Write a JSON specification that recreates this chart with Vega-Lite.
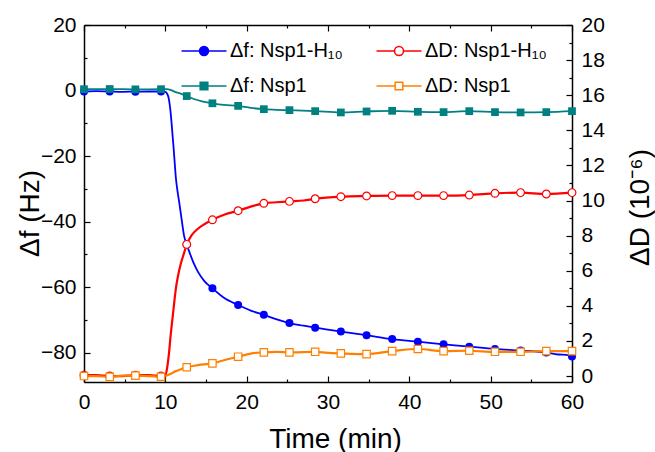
{
  "$schema": "https://vega.github.io/schema/vega-lite/v6.json",
  "width": 488,
  "height": 357,
  "autosize": "none",
  "padding": {"left": 84, "top": 25, "right": 83, "bottom": 70},
  "background": "white",
  "config": {
    "view": {"stroke": null},
    "axis": {
      "labelFont": "Liberation Sans", "titleFont": "Liberation Sans",
      "labelFontSize": 21, "titleFontSize": 28, "titleFontWeight": "normal",
      "labelColor": "black", "titleColor": "black",
      "domainColor": "black", "tickColor": "black",
      "domainWidth": 1.5, "tickWidth": 1.2, "grid": false,
      "labelFlush": false, "labelOverlap": false, "labelBound": false
    }
  },
  "datasets": {
    "d": [
      {"s":"fH","t":0,"v":-0.3,"m":1},{"s":"fH","t":3.16,"v":-0.3,"m":1},{"s":"fH","t":6.32,"v":-0.35,"m":1},{"s":"fH","t":9.47,"v":-0.3,"m":1},
      {"s":"fH","t":12.63,"v":-47.0,"m":1},{"s":"fH","t":15.79,"v":-60.4,"m":1},{"s":"fH","t":18.95,"v":-65.5,"m":1},{"s":"fH","t":22.11,"v":-68.5,"m":1},
      {"s":"fH","t":25.26,"v":-71.0,"m":1},{"s":"fH","t":28.42,"v":-72.4,"m":1},{"s":"fH","t":31.58,"v":-73.6,"m":1},{"s":"fH","t":34.74,"v":-74.7,"m":1},
      {"s":"fH","t":37.89,"v":-75.9,"m":1},{"s":"fH","t":41.05,"v":-76.7,"m":1},{"s":"fH","t":44.21,"v":-77.5,"m":1},{"s":"fH","t":47.37,"v":-78.2,"m":1},
      {"s":"fH","t":50.53,"v":-78.9,"m":1},{"s":"fH","t":53.68,"v":-79.4,"m":1},{"s":"fH","t":56.84,"v":-80.0,"m":1},{"s":"fH","t":60,"v":-81.2,"m":1},
      {"s":"fH","t":1.5,"v":-0.2,"m":0},{"s":"fH","t":4.7,"v":-0.4,"m":0},{"s":"fH","t":8,"v":-0.3,"m":0},{"s":"fH","t":10,"v":-0.4,"m":0},
      {"s":"fH","t":10.2,"v":-0.9,"m":0},{"s":"fH","t":10.4,"v":-2.2,"m":0},{"s":"fH","t":10.55,"v":-4.5,"m":0},{"s":"fH","t":10.7,"v":-8,"m":0},
      {"s":"fH","t":10.85,"v":-12.5,"m":0},{"s":"fH","t":11,"v":-17,"m":0},{"s":"fH","t":11.15,"v":-22,"m":0},{"s":"fH","t":11.3,"v":-26.8,"m":0},
      {"s":"fH","t":11.5,"v":-30.8,"m":0},{"s":"fH","t":11.7,"v":-34,"m":0},{"s":"fH","t":12,"v":-39.3,"m":0},{"s":"fH","t":12.3,"v":-44.3,"m":0},
      {"s":"fH","t":13,"v":-49.6,"m":0},{"s":"fH","t":13.5,"v":-52.8,"m":0},{"s":"fH","t":14,"v":-55.3,"m":0},{"s":"fH","t":14.8,"v":-58.2,"m":0},
      {"s":"fH","t":17.2,"v":-63.3,"m":0},{"s":"fH","t":20.5,"v":-67.2,"m":0},{"s":"fH","t":23.7,"v":-69.9,"m":0},{"s":"fH","t":27,"v":-71.8,"m":0},
      {"s":"fH","t":58.3,"v":-80.6,"m":0},{"s":"fH","t":59.3,"v":-80.7,"m":0},

      {"s":"fN","t":0,"v":0.4,"m":1},{"s":"fN","t":3.16,"v":0.45,"m":1},{"s":"fN","t":6.32,"v":0.35,"m":1},{"s":"fN","t":9.47,"v":0.4,"m":1},
      {"s":"fN","t":12.63,"v":-1.7,"m":1},{"s":"fN","t":15.79,"v":-3.9,"m":1},{"s":"fN","t":18.95,"v":-4.7,"m":1},{"s":"fN","t":22.11,"v":-5.7,"m":1},
      {"s":"fN","t":25.26,"v":-6.0,"m":1},{"s":"fN","t":28.42,"v":-6.3,"m":1},{"s":"fN","t":31.58,"v":-6.7,"m":1},{"s":"fN","t":34.74,"v":-6.4,"m":1},
      {"s":"fN","t":37.89,"v":-6.2,"m":1},{"s":"fN","t":41.05,"v":-6.5,"m":1},{"s":"fN","t":44.21,"v":-6.6,"m":1},{"s":"fN","t":47.37,"v":-6.3,"m":1},
      {"s":"fN","t":50.53,"v":-6.6,"m":1},{"s":"fN","t":53.68,"v":-6.7,"m":1},{"s":"fN","t":56.84,"v":-6.6,"m":1},{"s":"fN","t":60,"v":-6.3,"m":1},
      {"s":"fN","t":10.2,"v":0.4,"m":0},{"s":"fN","t":10.7,"v":0.1,"m":0},{"s":"fN","t":11.2,"v":-0.4,"m":0},{"s":"fN","t":11.8,"v":-0.9,"m":0},
      {"s":"fN","t":13.5,"v":-2.6,"m":0},{"s":"fN","t":14.5,"v":-3.3,"m":0},{"s":"fN","t":17.2,"v":-4.4,"m":0},{"s":"fN","t":20.5,"v":-5.3,"m":0},
      {"s":"fN","t":23.7,"v":-5.9,"m":0},

      {"s":"DH","t":0,"v":0.05,"m":1},{"s":"DH","t":3.16,"v":0.0,"m":1},{"s":"DH","t":6.32,"v":0.05,"m":1},{"s":"DH","t":9.47,"v":0.0,"m":1},
      {"s":"DH","t":12.63,"v":7.5,"m":1},{"s":"DH","t":15.79,"v":8.9,"m":1},{"s":"DH","t":18.95,"v":9.42,"m":1},{"s":"DH","t":22.11,"v":9.84,"m":1},
      {"s":"DH","t":25.26,"v":9.95,"m":1},{"s":"DH","t":28.42,"v":10.1,"m":1},{"s":"DH","t":31.58,"v":10.22,"m":1},{"s":"DH","t":34.74,"v":10.26,"m":1},
      {"s":"DH","t":37.89,"v":10.28,"m":1},{"s":"DH","t":41.05,"v":10.28,"m":1},{"s":"DH","t":44.21,"v":10.28,"m":1},{"s":"DH","t":47.37,"v":10.31,"m":1},
      {"s":"DH","t":50.53,"v":10.41,"m":1},{"s":"DH","t":53.68,"v":10.45,"m":1},{"s":"DH","t":56.84,"v":10.37,"m":1},{"s":"DH","t":60,"v":10.45,"m":1},
      {"s":"DH","t":1.5,"v":0.05,"m":0},{"s":"DH","t":4.7,"v":0.0,"m":0},{"s":"DH","t":8,"v":0.05,"m":0},{"s":"DH","t":10,"v":0.05,"m":0},
      {"s":"DH","t":10.2,"v":0.4,"m":0},{"s":"DH","t":10.45,"v":1.3,"m":0},{"s":"DH","t":10.65,"v":2.3,"m":0},{"s":"DH","t":10.86,"v":3.2,"m":0},
      {"s":"DH","t":11.05,"v":4.0,"m":0},{"s":"DH","t":11.27,"v":4.9,"m":0},{"s":"DH","t":11.6,"v":5.8,"m":0},{"s":"DH","t":11.9,"v":6.4,"m":0},
      {"s":"DH","t":12.3,"v":7.0,"m":0},{"s":"DH","t":13.2,"v":8.0,"m":0},{"s":"DH","t":13.9,"v":8.35,"m":0},{"s":"DH","t":14.8,"v":8.65,"m":0},
      {"s":"DH","t":17.3,"v":9.2,"m":0},{"s":"DH","t":20.5,"v":9.65,"m":0},{"s":"DH","t":23.7,"v":9.9,"m":0},{"s":"DH","t":27,"v":10.0,"m":0},

      {"s":"DN","t":0,"v":0.0,"m":1},{"s":"DN","t":3.16,"v":-0.05,"m":1},{"s":"DN","t":6.32,"v":0.02,"m":1},{"s":"DN","t":9.47,"v":-0.04,"m":1},
      {"s":"DN","t":12.63,"v":0.5,"m":1},{"s":"DN","t":15.79,"v":0.72,"m":1},{"s":"DN","t":18.95,"v":1.1,"m":1},{"s":"DN","t":22.11,"v":1.35,"m":1},
      {"s":"DN","t":25.26,"v":1.35,"m":1},{"s":"DN","t":28.42,"v":1.38,"m":1},{"s":"DN","t":31.58,"v":1.29,"m":1},{"s":"DN","t":34.74,"v":1.25,"m":1},
      {"s":"DN","t":37.89,"v":1.42,"m":1},{"s":"DN","t":41.05,"v":1.54,"m":1},{"s":"DN","t":44.21,"v":1.42,"m":1},{"s":"DN","t":47.37,"v":1.44,"m":1},
      {"s":"DN","t":50.53,"v":1.38,"m":1},{"s":"DN","t":53.68,"v":1.38,"m":1},{"s":"DN","t":56.84,"v":1.42,"m":1},{"s":"DN","t":60,"v":1.42,"m":1},
      {"s":"DN","t":1.5,"v":0.0,"m":0},{"s":"DN","t":4.7,"v":0.02,"m":0},{"s":"DN","t":8,"v":0.0,"m":0},{"s":"DN","t":10,"v":0.0,"m":0},
      {"s":"DN","t":10.6,"v":0.12,"m":0},{"s":"DN","t":11.3,"v":0.28,"m":0},{"s":"DN","t":12,"v":0.4,"m":0},{"s":"DN","t":14,"v":0.62,"m":0},
      {"s":"DN","t":17.2,"v":0.9,"m":0},{"s":"DN","t":20.5,"v":1.28,"m":0},{"s":"DN","t":23.7,"v":1.38,"m":0},{"s":"DN","t":27,"v":1.36,"m":0},
      {"s":"DN","t":30,"v":1.32,"m":0}
    ]
  },
  "data": {"name": "d"},
  "layer": [
    {
      "transform": [{"filter": {"field": "s", "oneOf": ["fH", "fN"]}}],
      "encoding": {
        "x": {"field": "t", "type": "quantitative", "scale": {"domain": [0, 60], "nice": false},
          "axis": {"orient": "bottom", "values": [0,5,10,15,20,25,30,35,40,45,50,55,60],
            "labelExpr": "datum.value % 10 === 0 ? datum.label : ''",
            "tickSize": {"condition": {"test": "datum.value % 10 === 0", "value": -6}, "value": -3},
            "labelPadding": 15, "title": "Time (min)", "titleX": 251, "titleY": 65, "titleBaseline": "alphabetic"}},
        "y": {"field": "v", "type": "quantitative", "scale": {"domain": [-89, 20], "nice": false, "zero": false},
          "axis": {"orient": "left", "values": [-80,-70,-60,-50,-40,-30,-20,-10,0,10,20],
            "labelExpr": "datum.value % 20 === 0 ? datum.label : ''",
            "tickSize": {"condition": {"test": "datum.value % 20 === 0", "value": -6}, "value": -3},
            "labelPadding": 14, "title": "Δf (Hz)", "titleAngle": -90, "titleX": -46, "titleY": 188, "titleBaseline": "alphabetic", "titleAlign": "center"}}
      },
      "layer": [
        {
          "mark": {"type": "line", "interpolate": "monotone", "strokeWidth": 1.8},
          "encoding": {
            "color": {"field": "s", "type": "nominal",
              "scale": {"domain": ["fH", "fN", "DH", "DN"], "range": ["#0000ff", "#008080", "#ff0000", "#ff8000"]},
              "legend": {
                "title": null, "orient": "none", "legendX": 110, "legendY": 16, "columns": 2,
                "columnPadding": 30, "rowPadding": 15, "padding": 0,
                "symbolSize": 81, "symbolStrokeWidth": 1.5, "symbolOpacity": 1,
                "labelFont": "Liberation Sans", "labelFontSize": 20, "labelColor": "black", "labelOffset": 16,
                "labelExpr": "datum.value === 'fH' ? 'Δf: Nsp1-H₁₀' : datum.value === 'DH' ? 'ΔD: Nsp1-H₁₀' : datum.value === 'fN' ? 'Δf: Nsp1' : 'ΔD: Nsp1'",
                "encode": {"symbols": {"update": {
                  "shape": {"signal": "indexof(['fH','DH'], datum.value) >= 0 ? 'M-5,0L-1,0M1,0L5,0M1,0A1,1,0,1,1,-1,0A1,1,0,1,1,1,0Z' : 'M-5,0L-0.85,0M0.85,0L5,0M-0.85,-0.85L0.85,-0.85L0.85,0.85L-0.85,0.85Z'"},
                  "fill": {"signal": "datum.value === 'fH' ? '#0000ff' : datum.value === 'fN' ? '#008080' : '#ffffff'"},
                  "opacity": {"value": 1}
                }}}
              }}
          }
        },
        {"transform": [{"filter": "datum.m === 1 && datum.s === 'fH'"}],
         "mark": {"type": "point", "shape": "circle", "filled": true, "color": "#0000ff", "opacity": 1, "size": 64}},
        {"transform": [{"filter": "datum.m === 1 && datum.s === 'fN'"}],
         "mark": {"type": "point", "shape": "square", "filled": true, "color": "#008080", "opacity": 1, "size": 60}}
      ]
    },
    {
      "transform": [{"filter": {"field": "s", "oneOf": ["DH", "DN"]}}],
      "encoding": {
        "x": {"field": "t", "type": "quantitative", "scale": {"domain": [0, 60], "nice": false},
          "axis": {"orient": "top", "values": [0,5,10,15,20,25,30,35,40,45,50,55,60], "labels": false,
            "tickSize": {"condition": {"test": "datum.value % 10 === 0", "value": -6}, "value": -3}, "title": null}},
        "y": {"field": "v", "type": "quantitative", "scale": {"domain": [-0.34, 20], "nice": false, "zero": false},
          "axis": {"orient": "right", "values": [0,1,2,3,4,5,6,7,8,9,10,11,12,13,14,15,16,17,18,19,20],
            "labelExpr": "datum.value % 2 === 0 ? datum.label : ''",
            "tickSize": {"condition": {"test": "datum.value % 2 === 0", "value": -6}, "value": -3},
            "labelPadding": 15, "title": "ΔD (10⁻⁶)", "titleAngle": -90, "titleX": 76, "titleY": 182, "titleBaseline": "alphabetic", "titleAlign": "center"}}
      },
      "layer": [
        {
          "mark": {"type": "line", "interpolate": "monotone", "strokeWidth": 2.2},
          "encoding": {
            "color": {"field": "s", "type": "nominal",
              "scale": {"domain": ["fH", "fN", "DH", "DN"], "range": ["#0000ff", "#008080", "#ff0000", "#ff8000"]}}
          }
        },
        {"transform": [{"filter": "datum.m === 1 && datum.s === 'DH'"}],
         "mark": {"type": "point", "shape": "circle", "filled": false, "fill": "#ffffff", "stroke": "#ff0000", "strokeWidth": 1.2, "opacity": 1, "size": 60}},
        {"transform": [{"filter": "datum.m === 1 && datum.s === 'DN'"}],
         "mark": {"type": "point", "shape": "square", "filled": false, "fill": "#ffffff", "stroke": "#ff8000", "strokeWidth": 1.2, "opacity": 1, "size": 55}}
      ]
    }
  ],
  "resolve": {"scale": {"y": "independent"}, "axis": {"x": "independent", "y": "independent"}}
}
